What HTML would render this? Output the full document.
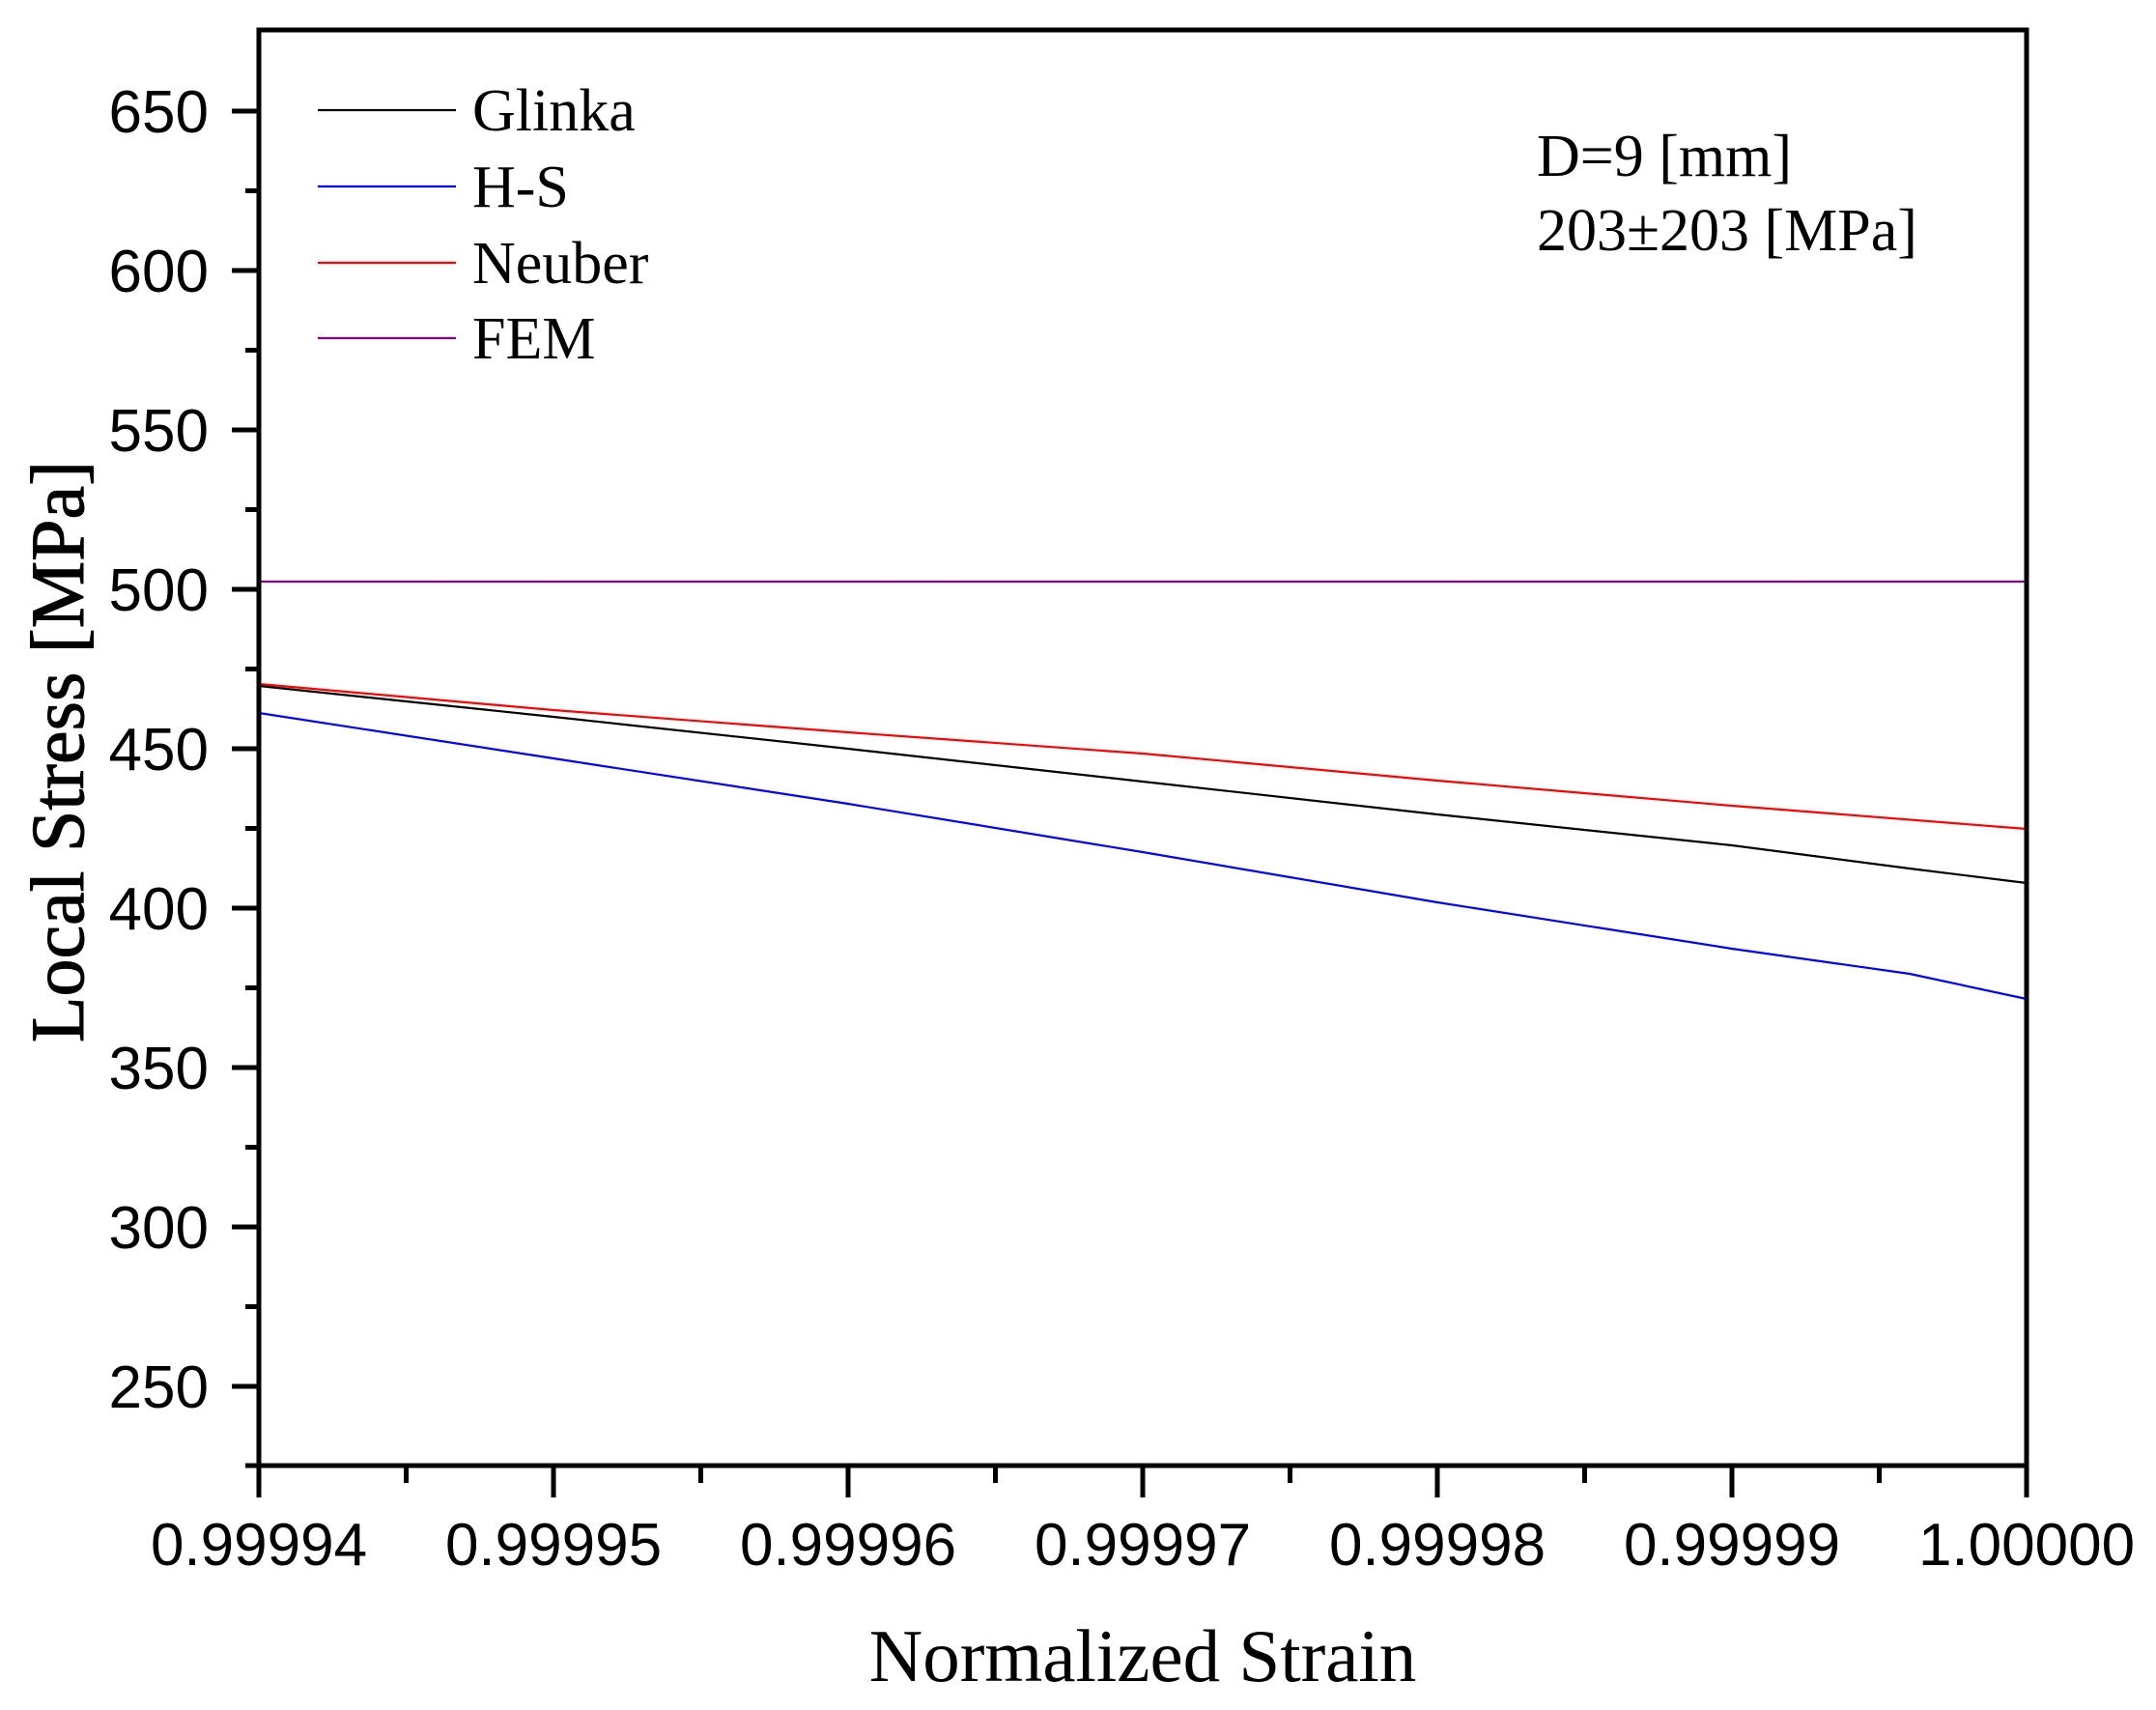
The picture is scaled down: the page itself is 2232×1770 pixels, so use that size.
<!DOCTYPE html>
<html><head><meta charset="utf-8"><style>
html,body{margin:0;padding:0;background:#fff;}
svg{display:block;}
.t{font-family:"Liberation Sans",Arial,sans-serif;font-size:62px;fill:#000;}
.s{font-family:"Liberation Serif","Times New Roman",serif;fill:#000;}
</style></head><body>
<svg width="2232" height="1770" viewBox="0 0 2232 1770" xmlns="http://www.w3.org/2000/svg">
<rect width="2232" height="1770" fill="#fff"/>
<g fill="none" stroke-width="2.2" stroke-linejoin="round">
<line x1="268" y1="602" x2="2098" y2="602" stroke="#8b008b"/>
<polyline stroke="#ff0000" points="268,708 573,735 878,758 1183,780 1488,808 1793,834 2098,858"/>
<polyline stroke="#000000" points="268,710 573,742 878,775 1183,809 1488,843 1793,875 1977,899 2098,914"/>
<polyline stroke="#0000ff" points="268,738 573,785 878,832 1183,882 1488,934 1793,982 1977,1008 2098,1034"/>
</g>
<g stroke="#000" stroke-width="5" fill="none">
<rect x="268" y="31" width="1830" height="1486"/>
</g>
<g stroke="#000" stroke-width="5">
<line x1="240" y1="115" x2="268" y2="115"/>
<line x1="240" y1="280" x2="268" y2="280"/>
<line x1="240" y1="445" x2="268" y2="445"/>
<line x1="240" y1="610" x2="268" y2="610"/>
<line x1="240" y1="775" x2="268" y2="775"/>
<line x1="240" y1="940" x2="268" y2="940"/>
<line x1="240" y1="1105" x2="268" y2="1105"/>
<line x1="240" y1="1270" x2="268" y2="1270"/>
<line x1="240" y1="1435" x2="268" y2="1435"/>
<line x1="254" y1="197.5" x2="268" y2="197.5"/>
<line x1="254" y1="362.5" x2="268" y2="362.5"/>
<line x1="254" y1="527.5" x2="268" y2="527.5"/>
<line x1="254" y1="692.5" x2="268" y2="692.5"/>
<line x1="254" y1="857.5" x2="268" y2="857.5"/>
<line x1="254" y1="1022.5" x2="268" y2="1022.5"/>
<line x1="254" y1="1187.5" x2="268" y2="1187.5"/>
<line x1="254" y1="1352.5" x2="268" y2="1352.5"/>
<line x1="254" y1="1517" x2="268" y2="1517"/>
<line x1="268" y1="1517" x2="268" y2="1550"/>
<line x1="573" y1="1517" x2="573" y2="1550"/>
<line x1="878" y1="1517" x2="878" y2="1550"/>
<line x1="1183" y1="1517" x2="1183" y2="1550"/>
<line x1="1488" y1="1517" x2="1488" y2="1550"/>
<line x1="1793" y1="1517" x2="1793" y2="1550"/>
<line x1="2098" y1="1517" x2="2098" y2="1550"/>
<line x1="420.5" y1="1517" x2="420.5" y2="1535"/>
<line x1="725.5" y1="1517" x2="725.5" y2="1535"/>
<line x1="1030.5" y1="1517" x2="1030.5" y2="1535"/>
<line x1="1335.5" y1="1517" x2="1335.5" y2="1535"/>
<line x1="1640.5" y1="1517" x2="1640.5" y2="1535"/>
<line x1="1945.5" y1="1517" x2="1945.5" y2="1535"/>
</g>
<g class="t" text-anchor="end">
<text x="216" y="137">650</text>
<text x="216" y="302">600</text>
<text x="216" y="467">550</text>
<text x="216" y="632">500</text>
<text x="216" y="797">450</text>
<text x="216" y="962">400</text>
<text x="216" y="1127">350</text>
<text x="216" y="1292">300</text>
<text x="216" y="1457">250</text>
</g>
<g class="t" text-anchor="middle">
<text x="268" y="1620">0.99994</text>
<text x="573" y="1620">0.99995</text>
<text x="878" y="1620">0.99996</text>
<text x="1183" y="1620">0.99997</text>
<text x="1488" y="1620">0.99998</text>
<text x="1793" y="1620">0.99999</text>
<text x="2098" y="1620">1.00000</text>
</g>
<text class="s" x="1183" y="1740" font-size="77" text-anchor="middle">Normalized Strain</text>
<text class="s" font-size="78" text-anchor="middle" stroke="#000" stroke-width="1" transform="translate(86,778) rotate(-90)">Local Stress [MPa]</text>
<g stroke-width="2.2">
<line x1="329" y1="114" x2="472" y2="114" stroke="#000"/>
<line x1="329" y1="193" x2="472" y2="193" stroke="#0000ff"/>
<line x1="329" y1="272" x2="472" y2="272" stroke="#ff0000"/>
<line x1="329" y1="350" x2="472" y2="350" stroke="#8b008b"/>
</g>
<g class="s" font-size="62">
<text x="489" y="135">Glinka</text>
<text x="489" y="214">H-S</text>
<text x="489" y="293">Neuber</text>
<text x="489" y="371">FEM</text>
<text x="1591" y="182">D=9 [mm]</text>
<text x="1591" y="259">203±203 [MPa]</text>
</g>
</svg>
</body></html>
